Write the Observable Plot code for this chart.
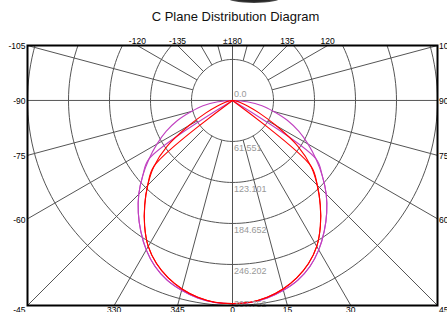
<!DOCTYPE html>
<html><head><meta charset="utf-8">
<script src="https://cdn.jsdelivr.net/npm/d3@7"></script>
<script src="https://cdn.jsdelivr.net/npm/@observablehq/plot@0.6"></script>
<style>
body{margin:0;background:#fff;width:447px;height:312px;overflow:hidden;position:relative;font-family:"Liberation Sans",Arial,Helvetica,sans-serif;}
#chart{position:absolute;left:0;top:0;}
#title{position:absolute;left:0;width:471px;top:9px;line-height:15px;text-align:center;font-size:13px;color:#111;}
#lamp{position:absolute;left:226px;top:-9px;width:56px;height:12px;border-radius:50%;background:radial-gradient(ellipse at center,#111 0%,#2a2a2a 55%,#aaa 100%);}
</style></head><body>
<div id="chart"></div>
<div id="lamp"></div>
<div id="title">C Plane Distribution Diagram</div>
<script>
// gamma angles (deg from nadir) and intensities
const gammaDeg = [0,5,10,15,20,25,30,35,40,45,50,55,60,65,70,75,80,85,90];
const redIntensity     = [305,304,300,293,283,270,253,230,205,180,154,120,76,44,24,12,6,2,0];
const magentaIntensity = [305,304.5,301,295,287,275,259,240,220,199,176,153,131,110,88,64,45,22,0];
const redCutoff = 50;      // red straight-line loop ends at this gamma
const magentaCutoff = 55;  // magenta straight-line loop ends at this gamma

const radiusTicks  = [0, 61.5504, 123.1008, 184.6512, 246.2016, 307.752];
const radiusLabels = ["0.0","61.551","123.101","184.652","246.202","307.752"];

const leftAngles   = [-105,-90,-75,-60];
const leftText     = ["-105","-90","-75","-60"];
const rightAngles  = [105,90,75,60];
const rightText    = ["105","90","75","60"];
const topAngles    = [-120,-135,180,135,120];
const topText      = ["-120","-135","±180","135","120"];
const bottomAngles = [-30,-15,0,15,30];
const bottomText   = ["330","345","0","15","30"];
const cornerAngles = [-45,45];
const cornerText   = ["-45","45"];
const gridStep = 15;

const rad = Math.PI/180;
const R = radiusTicks[radiusTicks.length-1];
const yTop = R*Math.tan(15*rad);

function edgePoint(deg){
  const t = deg*rad, dx = Math.sin(t), dy = -Math.cos(t);
  let s = Infinity;
  if (dx > 1e-9) s = Math.min(s, R/dx);
  if (dx < -1e-9) s = Math.min(s, -R/dx);
  if (dy > 1e-9) s = Math.min(s, yTop/dy);
  if (dy < -1e-9) s = Math.min(s, -R/dy);
  return {x: dx*s, y: dy*s};
}
const polar = (deg, r) => ({x: r*Math.sin(deg*rad), y: -r*Math.cos(deg*rad)});

// grid circles
const circleRows = [];
radiusTicks.slice(1).forEach((r,k)=>{
  for (let a=0;a<=360;a+=2){ const p = polar(a,r); circleRows.push({k, x:p.x, y:p.y}); }
});
// radial grid lines
const radialRows = d3.range(-165, 181, gridStep).map(a=>{
  const r0 = (a % 90 === 0) ? 0 : radiusTicks[1];
  const p0 = polar(a, r0), p1 = edgePoint(a);
  return {x1:p0.x, y1:p0.y, x2:p1.x, y2:p1.y};
});

function loop(name, values, cutoff){
  const rows = [];
  const g = gammaDeg.map(v=>-v).reverse().concat(gammaDeg.slice(1));
  for (const a of g){
    const i = gammaDeg.indexOf(Math.abs(a));
    if (cutoff != null && Math.abs(a) > cutoff + 5) continue;
    const v = (cutoff != null && Math.abs(a) > cutoff) ? 0 : values[i];
    const p = polar(a, v);
    rows.push({loop:name, x:p.x, y:p.y});
  }
  return rows;
}
const magentaRows = loop("m1", magentaIntensity).concat(loop("m2", magentaIntensity, magentaCutoff));
const redRows = loop("r1", redIntensity).concat(loop("r2", redIntensity, redCutoff));

const labelRows = (angles, texts) => angles.map((a,i)=>({...edgePoint(a), text:texts[i]}));
const valueRows = radiusLabels.map((t,i)=>({x:0, y:-radiusTicks[i], text:t}));

const font = {fontFamily:"'Liberation Sans', Arial, Helvetica, sans-serif"};
const fs = 8.5;
const chart = Plot.plot({
  width:447, height:312,
  marginTop:45, marginBottom:7, marginLeft:27, marginRight:10,
  x:{domain:[-R,R], axis:null},
  y:{domain:[-R,yTop], axis:null},
  style:{background:"transparent", ...font, fontSize:"9px"},
  marks:[
    Plot.line(circleRows, {x:"x", y:"y", z:"k", stroke:"#555", strokeWidth:1, clip:true}),
    Plot.link(radialRows, {x1:"x1", y1:"y1", x2:"x2", y2:"y2", stroke:"#555", strokeWidth:1}),
    Plot.line(magentaRows, {x:"x", y:"y", z:"loop", stroke:"#c040c0", strokeWidth:1.1, curve:"catmull-rom"}),
    Plot.line(redRows, {x:"x", y:"y", z:"loop", stroke:"#ff0000", strokeWidth:1.1, curve:"catmull-rom"}),
    Plot.text(valueRows.slice(0,1), {x:"x", y:"y", text:"text", textAnchor:"start", lineAnchor:"bottom", dx:1.5, dy:-3, fill:"#999", fontSize:9}),
    Plot.text(valueRows.slice(1,5), {x:"x", y:"y", text:"text", textAnchor:"start", lineAnchor:"top", dx:1.5, dy:3, fill:"#999", fontSize:9}),
    Plot.text(valueRows.slice(5), {x:"x", y:"y", text:"text", textAnchor:"start", lineAnchor:"bottom", dx:1.5, dy:1.5, fill:"#999", fontSize:9}),
    Plot.frame({stroke:"#000", strokeWidth:2}),
    Plot.text(labelRows(leftAngles,leftText), {x:"x", y:"y", text:"text", textAnchor:"end", dx:-2, dy:1, fill:"#000", fontSize:fs}),
    Plot.text(labelRows(rightAngles,rightText), {x:"x", y:"y", text:"text", textAnchor:"start", dx:1.5, dy:1, fill:"#000", fontSize:fs}),
    Plot.text(labelRows(topAngles,topText), {x:"x", y:"y", text:"text", lineAnchor:"bottom", dy:-1.5, fill:"#000", fontSize:fs}),
    Plot.text(labelRows(bottomAngles,bottomText), {x:"x", y:"y", text:"text", lineAnchor:"top", dy:1.5, fill:"#000", fontSize:fs}),
    Plot.text(labelRows(cornerAngles.slice(0,1),cornerText.slice(0,1)), {x:"x", y:"y", text:"text", textAnchor:"end", lineAnchor:"top", dx:-2, dy:1.5, fill:"#000", fontSize:fs}),
    Plot.text(labelRows(cornerAngles.slice(1),cornerText.slice(1)), {x:"x", y:"y", text:"text", textAnchor:"start", lineAnchor:"top", dx:1.5, dy:1.5, fill:"#000", fontSize:fs})
  ]
});
document.getElementById("chart").appendChild(chart);
</script>
</body></html>
